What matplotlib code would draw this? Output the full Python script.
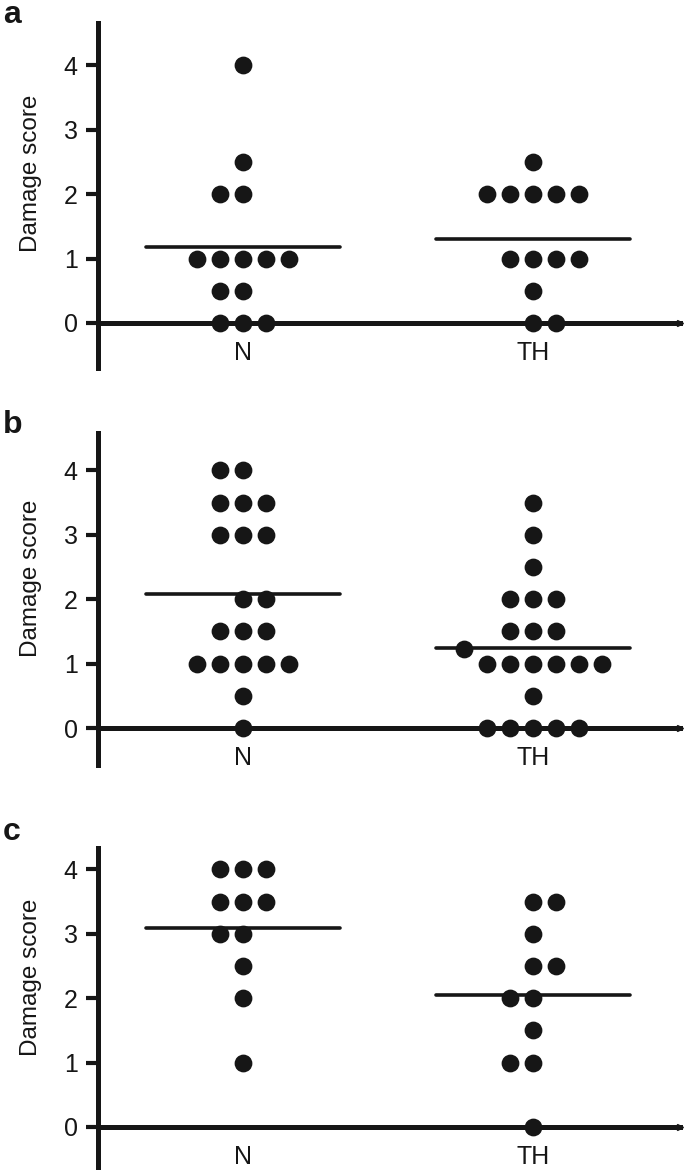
import matplotlib
matplotlib.use("Agg")
import matplotlib.pyplot as plt
import matplotlib.transforms as mtransforms
import numpy as np

plt.rcParams['font.family'] = ['Liberation Sans', 'DejaVu Sans']

# --- DADOS ---
categorias = ["N", "TH"]
paineis = ["a", "b", "c"]

# painel a
a_N_vals = [4.0, 2.5, 2.0, 2.0, 1.0, 1.0, 1.0, 1.0, 1.0, 0.5, 0.5, 0.0, 0.0, 0.0]
a_N_slot = [0, 0, -1, 0, -2, -1, 0, 1, 2, -1, 0, -1, 0, 1]
a_TH_vals = [2.5, 2.0, 2.0, 2.0, 2.0, 2.0, 1.0, 1.0, 1.0, 1.0, 0.5, 0.0, 0.0]
a_TH_slot = [0, -2, -1, 0, 1, 2, -1, 0, 1, 2, 0, 0, 1]

# painel b
b_N_vals = [4.0, 4.0, 3.5, 3.5, 3.5, 3.0, 3.0, 3.0, 2.0, 2.0, 1.5, 1.5, 1.5,
            1.0, 1.0, 1.0, 1.0, 1.0, 0.5, 0.0]
b_N_slot = [-1, 0, -1, 0, 1, -1, 0, 1, 0, 1, -1, 0, 1, -2, -1, 0, 1, 2, 0, 0]
b_TH_vals = [3.5, 3.0, 2.5, 2.0, 2.0, 2.0, 1.5, 1.5, 1.5, 1.23,
             1.0, 1.0, 1.0, 1.0, 1.0, 1.0, 0.5, 0.0, 0.0, 0.0, 0.0, 0.0]
b_TH_slot = [0, 0, 0, -1, 0, 1, -1, 0, 1, -3,
             -2, -1, 0, 1, 2, 3, 0, -2, -1, 0, 1, 2]

# painel c
c_N_vals = [4.0, 4.0, 4.0, 3.5, 3.5, 3.5, 3.0, 3.0, 2.5, 2.0, 1.0]
c_N_slot = [-1, 0, 1, -1, 0, 1, -1, 0, 0, 0, 0]
c_TH_vals = [3.5, 3.5, 3.0, 2.5, 2.5, 2.0, 2.0, 1.5, 1.0, 1.0, 0.0]
c_TH_slot = [0, 1, 0, 0, 1, -1, 0, 0, -1, 0, 0]

dados = {
    "a": [(a_N_vals, a_N_slot), (a_TH_vals, a_TH_slot)],
    "b": [(b_N_vals, b_N_slot), (b_TH_vals, b_TH_slot)],
    "c": [(c_N_vals, c_N_slot), (c_TH_vals, c_TH_slot)],
}

# --- LAYOUT (pixeis da figura 685x1170) ---
W, H = 685, 1170
UNIDADE = 64.4          # pixeis por unidade no eixo y
X_ESQ, X_DIR = 98, 680  # eixo y e fim do eixo x
# topo, fundo e zero de cada painel
caixas = {"a": (23, 368, 323), "b": (433, 765, 728), "c": (848, 1168, 1127)}
letra_y = {"a": 23, "b": 433, "c": 840}

PX_X = 290.0            # pixeis por unidade no eixo x
ESPACO = 23.0 / PX_X    # distancia entre pontos
MEIA_LINHA = 97.0 / PX_X
xmin = 1 - (242.7 - X_ESQ) / PX_X
xmax = 2 + (X_DIR - 532.7) / PX_X

COR = "#161616"

fig = plt.figure(figsize=(W / 100, H / 100), dpi=100)

for p in paineis:
    topo, fundo, zero = caixas[p]
    ax = fig.add_axes([X_ESQ / W, 1 - fundo / H, (X_DIR - X_ESQ) / W, (fundo - topo) / H])
    ax.set_xlim(xmin, xmax)
    ax.set_ylim(-(fundo - zero) / UNIDADE, (zero - topo) / UNIDADE)

    for i, (vals, slots) in enumerate(dados[p]):
        cx = i + 1
        xs = cx + np.array(slots) * ESPACO
        ax.plot(xs, vals, 'o', color=COR, markersize=12.8, markeredgewidth=0,
                zorder=4, clip_on=False)
        media = np.mean(vals)
        ax.plot([cx - MEIA_LINHA, cx + MEIA_LINHA], [media, media], '-',
                color=COR, linewidth=2.6, solid_capstyle='round', zorder=3)

    # eixos
    for s in ["top", "right"]:
        ax.spines[s].set_visible(False)
    ax.spines["left"].set_linewidth(3.6)
    ax.spines["left"].set_color(COR)
    ax.spines["bottom"].set_position(("data", 0))
    ax.spines["bottom"].set_linewidth(3.6)
    ax.spines["bottom"].set_color(COR)
    ax.spines["bottom"].set_zorder(2)
    ax.plot([xmax], [0], marker='>', color=COR, markersize=5, clip_on=False, zorder=2)

    ax.set_yticks([0, 1, 2, 3, 4])
    ax.set_yticklabels(["0", "1", "2", "3", "4"])
    ax.tick_params(axis='y', direction='out', length=8.6, width=3, color=COR,
                   labelsize=18, pad=6, labelcolor=COR)
    ax.set_xticks([1, 2])
    ax.set_xticklabels(categorias)
    ax.tick_params(axis='x', length=0, labelsize=18, pad=13, labelcolor=COR)

    trans = mtransforms.blended_transform_factory(ax.transAxes, ax.transData)
    ax.text((31 - X_ESQ) / (X_DIR - X_ESQ), 2.32, "Damage score", rotation=90,
            ha='center', va='center', fontsize=17.5, color=COR, transform=trans)

    fig.text(3 / W, 1 - letra_y[p] / H, p, fontsize=23, fontweight='bold',
             ha='left', va='baseline', color=COR)

plt.savefig("out.png", dpi=100)
